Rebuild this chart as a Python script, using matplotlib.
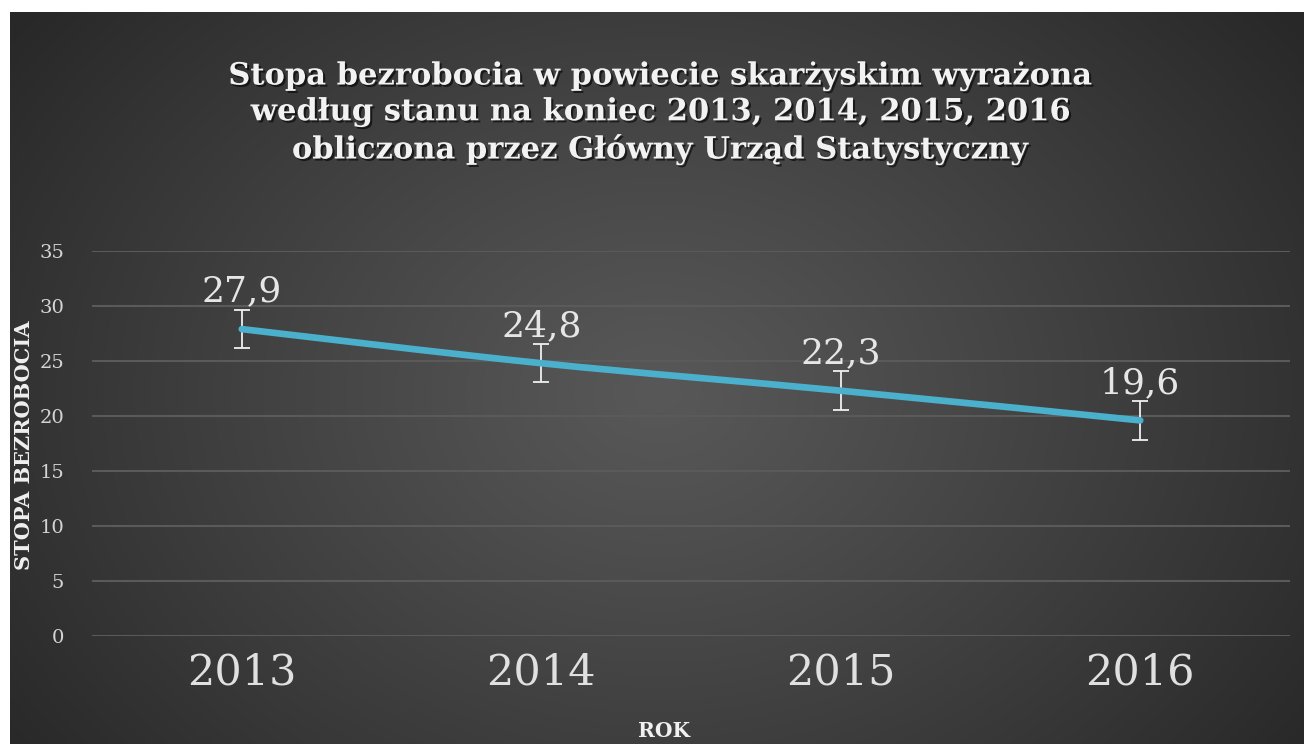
import numpy as np
import matplotlib
matplotlib.use("Agg")
import matplotlib.pyplot as plt
from matplotlib.path import Path
from matplotlib.patches import PathPatch
import matplotlib.patheffects as pe

years = ["2013", "2014", "2015", "2016"]
rates = [27.9, 24.8, 22.3, 19.6]
labels = ["27,9", "24,8", "22,3", "19,6"]
err = [1.75, 1.75, 1.75, 1.75]
yticks = [0, 5, 10, 15, 20, 25, 30, 35]
title = ("Stopa bezrobocia w powiecie skarżyskim wyrażona\n"
         "według stanu na koniec 2013, 2014, 2015, 2016\n"
         "obliczona przez Główny Urząd Statystyczny")

W, H = 1304, 744
fig = plt.figure(figsize=(W / 100, H / 100), dpi=100, facecolor="white")

# background radial gradient
bg = fig.add_axes([10 / W, 0, (W - 10) / W, (H - 12) / H])
bg.set_axis_off()
ny, nx = 300, 530
yy, xx = np.mgrid[0:ny, 0:nx]
cx, cy = nx * 0.50, ny * 0.52
r = np.sqrt(((xx - cx) / (nx * 0.62)) ** 2 + ((yy - cy) / (ny * 0.85)) ** 2)
r = np.clip(r, 0, 1)
inner, outer = 0x58 / 255, 0x28 / 255
val = inner + (outer - inner) * r ** 1.1
img = np.dstack([val, val, val])
bg.imshow(img, aspect="auto", extent=[0, 1, 0, 1], interpolation="bicubic")
bg.set_xlim(0, 1)
bg.set_ylim(0, 1)

ax = fig.add_axes([92 / W, (H - 636) / H, (1290 - 92) / W, (636 - 251) / H])
ax.set_facecolor("none")
x = np.arange(len(years))
ax.set_xlim(-0.5, len(years) - 0.5)
ax.set_ylim(0, 35)
for s in ax.spines.values():
    s.set_visible(False)
ax.set_yticks(yticks)
ax.set_yticklabels([str(v) for v in yticks])
ax.set_xticks(x)
ax.set_xticklabels(years)
ax.tick_params(axis="y", length=0, pad=20, labelsize=14, labelcolor="#d4d4d4")
ax.tick_params(axis="x", length=0, pad=11, labelsize=31, labelcolor="#e0e0e0")
for t in ax.get_yticklabels() + ax.get_xticklabels():
    t.set_family("DejaVu Serif")
ax.grid(axis="y", color="#5a5a5a", linewidth=1.5)
ax.set_axisbelow(True)

# error bars
ax.errorbar(x, rates, yerr=err, fmt="none", ecolor="#f0f0f0", elinewidth=1.3,
            capsize=6, capthick=1.3, zorder=3)

# smoothed line (Catmull-Rom style Bezier through the data points)
pts = np.column_stack([x, rates]).astype(float)
verts = [tuple(pts[0])]
codes = [Path.MOVETO]
n = len(pts)
for i in range(n - 1):
    p0 = pts[i - 1] if i > 0 else pts[i]
    p1 = pts[i]
    p2 = pts[i + 1]
    p3 = pts[i + 2] if i + 2 < n else pts[i + 1]
    c1 = p1 + (p2 - p0) / 6.0
    c2 = p2 - (p3 - p1) / 6.0
    verts += [tuple(c1), tuple(c2), tuple(p2)]
    codes += [Path.CURVE4] * 3
patch = PathPatch(Path(verts, codes), facecolor="none", edgecolor="#4bb0cc",
                  linewidth=4.8, capstyle="round", zorder=4,
                  path_effects=[pe.SimplePatchShadow(offset=(1.5, -1.5), alpha=0.4), pe.Normal()])
ax.add_patch(patch)

for xi, yi, lab in zip(x, rates, labels):
    ax.annotate(lab, (xi, yi), xytext=(0, 27), textcoords="offset points",
                ha="center", va="center", fontsize=26, color="#e6e6e6",
                family="DejaVu Serif", zorder=5)

fig.text(0.506, 1 - 113 / H, title, ha="center", va="center", fontsize=22,
         fontweight="bold", family="DejaVu Serif", color="#f2f2f2",
         linespacing=1.2,
         path_effects=[pe.SimplePatchShadow(offset=(1.5, -1.5), shadow_rgbFace="black", alpha=0.6),
                       pe.Normal()])

fig.text(24 / W, 1 - 445 / H, "STOPA BEZROBOCIA", rotation=90, ha="center",
         va="center", fontsize=15, fontweight="bold", family="DejaVu Serif",
         color="#f0f0f0")
fig.text(664 / W, 1 - 731 / H, "ROK", ha="center", va="center", fontsize=14.5,
         fontweight="bold", family="DejaVu Serif", color="#f0f0f0")

fig.savefig("out.png", dpi=100, facecolor="white")
